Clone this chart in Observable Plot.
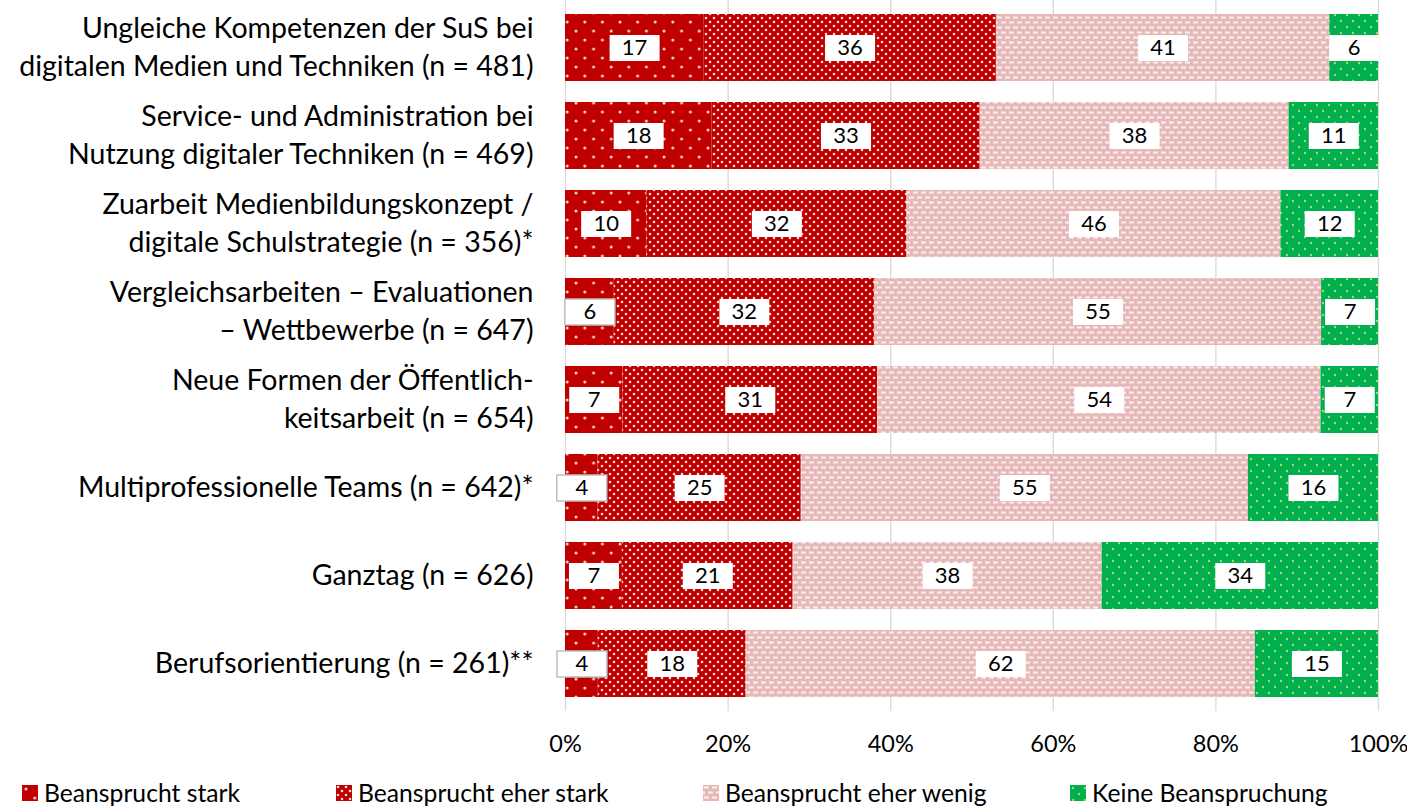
<!DOCTYPE html>
<html>
<head>
<meta charset="utf-8">
<script src="https://cdn.jsdelivr.net/npm/d3@7"></script>
<script src="https://cdn.jsdelivr.net/npm/@observablehq/plot@0.6"></script>
<style>
  html, body { margin: 0; padding: 0; background: #fff; }
  body { width: 1407px; height: 809px; position: relative; overflow: hidden; font-family: Lato, "Liberation Sans", sans-serif; }
  #legend { position: absolute; left: 0; top: 770px; width: 1407px; height: 39px; }
  .item { position: absolute; top: 8px; display: flex; align-items: center; font-size: 24.7px; color: #000; white-space: nowrap; }
  .item svg { margin-right: 6px; }
</style>
</head>
<body>
<svg width="0" height="0" style="position:absolute">
  <defs>
    <pattern id="pStark" patternUnits="userSpaceOnUse" width="17.6" height="18">
      <rect width="17.6" height="18" fill="#C00000"/>
      <circle cx="4" cy="4" r="1.5" fill="#f6d0d0"/>
      <circle cx="12.8" cy="13" r="1.5" fill="#f6d0d0"/>
    </pattern>
    <pattern id="pEherStark" patternUnits="userSpaceOnUse" width="8" height="8">
      <rect width="8" height="8" fill="#C00000"/>
      <circle cx="2" cy="2" r="1.3" fill="#f8dada"/>
      <circle cx="6" cy="6" r="1.3" fill="#f8dada"/>
    </pattern>
    <pattern id="pEherWenig" patternUnits="userSpaceOnUse" width="8" height="10">
      <rect width="8" height="10" fill="#E6B9B8"/>
      <rect x="1" y="1.5" width="5" height="2" fill="#fbeeee"/>
      <rect x="5" y="6.5" width="5" height="2" fill="#fbeeee"/>
      <rect x="-3" y="6.5" width="5" height="2" fill="#fbeeee"/>
    </pattern>
    <pattern id="pKeine" patternUnits="userSpaceOnUse" width="12" height="12">
      <rect width="12" height="12" fill="#00B050"/>
      <circle cx="3" cy="3" r="1.2" fill="#a8d860"/>
      <circle cx="9" cy="9" r="1.2" fill="#a8d860"/>
    </pattern>
  </defs>
</svg>
<div id="chart"></div>
<div id="legend"></div>
<script>
const categories = [
  "Ungleiche Kompetenzen der SuS bei\ndigitalen Medien und Techniken (n = 481)",
  "Service- und Administration bei\nNutzung digitaler Techniken (n = 469)",
  "Zuarbeit Medienbildungskonzept /\ndigitale Schulstrategie (n = 356)*",
  "Vergleichsarbeiten – Evaluationen\n– Wettbewerbe (n = 647)",
  "Neue Formen der Öffentlich-\nkeitsarbeit (n = 654)",
  "Multiprofessionelle Teams (n = 642)*",
  "Ganztag (n = 626)",
  "Berufsorientierung (n = 261)**"
];
const series = ["Beansprucht stark", "Beansprucht eher stark", "Beansprucht eher wenig", "Keine Beanspruchung"];
const stark     = [17, 18, 10, 6, 7, 4, 7, 4];
const eherStark = [36, 33, 32, 32, 31, 25, 21, 18];
const eherWenig = [41, 38, 46, 55, 54, 55, 38, 62];
const keine     = [6, 11, 12, 7, 7, 16, 34, 15];
const xTicks = [0, 0.2, 0.4, 0.6, 0.8, 1];
const tickLabels = ["0%", "20%", "40%", "60%", "80%", "100%"];

const patterns = ["url(#pStark)", "url(#pEherStark)", "url(#pEherWenig)", "url(#pKeine)"];
const seriesValues = [stark, eherStark, eherWenig, keine];

const data = [];
categories.forEach((cat, i) => {
  series.forEach((s, j) => {
    const v = seriesValues[j][i];
    data.push({cat, series: s, value: v, fill: patterns[j], border: v <= 6 && j === 0 ? "#bfbfbf" : "none"});
  });
});

const boxSymbol = { draw(ctx) { ctx.rect(-25, -13, 50, 26); } };

const chart = Plot.plot({
  width: 1407,
  height: 770,
  marginLeft: 565,
  marginRight: 29,
  marginTop: 0,
  marginBottom: 59,
  style: { fontFamily: "Lato, 'Liberation Sans', sans-serif", background: "#fff", color: "#000" },
  x: { domain: [0, 1], axis: null },
  y: { domain: categories, paddingInner: 0.244, paddingOuter: 0.122, axis: null },
  color: { type: "identity" },
  marks: [
    Plot.gridX(xTicks, { stroke: "#d9d9d9", strokeOpacity: 1, strokeWidth: 1.3 }),
    Plot.barX(data, Plot.stackX({ offset: "normalize", x: "value", y: "cat", z: "series", order: null, fill: "fill", inset: 0 })),
    Plot.dot(data, Plot.stackX({ offset: "normalize", x: "value", y: "cat", z: "series", order: null, symbol: boxSymbol, fill: "white", stroke: "border", strokeWidth: 1.5 })),
    Plot.text(data, Plot.stackX({ offset: "normalize", x: "value", y: "cat", z: "series", order: null, text: d => String(d.value), fill: "#000", fontSize: 22 })),
    Plot.text(categories, { x: () => 0, y: d => d, text: d => d, textAnchor: "end", dx: -32, dy: -3, fontSize: 28.5, lineHeight: 1.34, fill: "#000" }),
    Plot.text(xTicks, { x: d => d, frameAnchor: "bottom", text: (d, i) => tickLabels[i], dy: 40, fontSize: 23.5, fill: "#000" })
  ]
});
document.getElementById("chart").appendChild(chart);

const legend = document.getElementById("legend");
const legendLeft = [22, 336, 703, 1070];
series.forEach((s, j) => {
  const item = document.createElement("div");
  item.className = "item";
  item.style.left = legendLeft[j] + "px";
  item.innerHTML = `<svg width="16" height="16"><rect width="16" height="16" fill="${patterns[j]}"/></svg><span>${s}</span>`;
  legend.appendChild(item);
});
</script>
</body>
</html>
